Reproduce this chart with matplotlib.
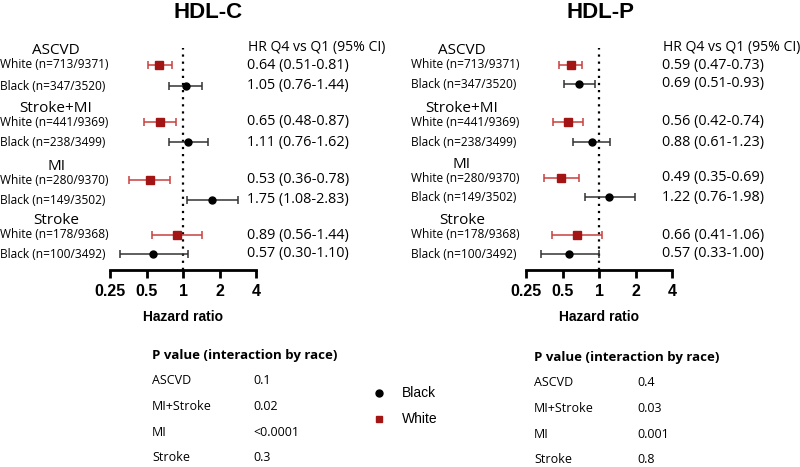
import matplotlib.pyplot as plt
from matplotlib.ticker import FixedLocator, NullLocator

W, H = 800, 467

groups = ["ASCVD", "Stroke+MI", "MI", "Stroke"]
white_n = ["White (n=713/9371)", "White (n=441/9369)", "White (n=280/9370)", "White (n=178/9368)"]
black_n = ["Black (n=347/3520)", "Black (n=238/3499)", "Black (n=149/3502)", "Black (n=100/3492)"]

# HDL-C
c_white_hr = [0.64, 0.65, 0.53, 0.89]
c_white_lo = [0.51, 0.48, 0.36, 0.56]
c_white_hi = [0.81, 0.87, 0.78, 1.44]
c_black_hr = [1.05, 1.11, 1.75, 0.57]
c_black_lo = [0.76, 0.76, 1.08, 0.30]
c_black_hi = [1.44, 1.62, 2.83, 1.10]

# HDL-P
p_white_hr = [0.59, 0.56, 0.49, 0.66]
p_white_lo = [0.47, 0.42, 0.35, 0.41]
p_white_hi = [0.73, 0.74, 0.69, 1.06]
p_black_hr = [0.69, 0.88, 1.22, 0.57]
p_black_lo = [0.51, 0.61, 0.76, 0.33]
p_black_hi = [0.93, 1.23, 1.98, 1.00]

p_labels = ["ASCVD", "MI+Stroke", "MI", "Stroke"]
c_pvals = ["0.1", "0.02", "<0.0001", "0.3"]
p_pvals = ["0.4", "0.03", "0.001", "0.8"]

ticks = [0.25, 0.5, 1, 2, 4]
tick_labels = ["0.25", "0.5", "1", "2", "4"]

RED = "#a31515"
FONT = "Open Sans"


def T(x, y, s, **kw):
    kw.setdefault("family", FONT)
    fig.text(x / W, 1 - y / H, s, **kw)


fig = plt.figure(figsize=(W / 100, H / 100), dpi=100)


def panel(x0, title, w_hr, w_lo, w_hi, b_hr, b_lo, b_hi, white_y, black_y, grp_y,
          lab_x, grp_x, title_x, hr_x, pv_x, pv_vx, pv_y, pvals):
    # axis spans 0.25..4 over 146 px, line at y=270
    ax = fig.add_axes([x0 / W, (H - 270) / H, 146 / W, 230 / H])
    ax.set_xscale("log", base=2)
    ax.set_xlim(0.25, 4)
    ax.set_ylim(270, 40)
    for s in ["top", "right", "left"]:
        ax.spines[s].set_visible(False)
    ax.spines["bottom"].set_linewidth(2)
    ax.xaxis.set_major_locator(FixedLocator(ticks))
    ax.xaxis.set_minor_locator(NullLocator())
    ax.set_xticklabels(tick_labels, fontsize=11.5, fontweight="bold", family="Liberation Sans")
    ax.tick_params(axis="x", length=6, width=2, pad=4)
    ax.set_yticks([])
    ax.patch.set_alpha(0)
    ax.plot([1, 1], [270, 48], ls=(0, (1, 2.2)), color="black", lw=1.6, clip_on=False)

    wx = [[h - l for h, l in zip(w_hr, w_lo)], [hi - h for h, hi in zip(w_hr, w_hi)]]
    bx = [[h - l for h, l in zip(b_hr, b_lo)], [hi - h for h, hi in zip(b_hr, b_hi)]]
    ax.errorbar(w_hr, white_y, xerr=wx, fmt="s", color=RED, ecolor="#c94040", ms=6,
                capsize=3, elinewidth=1.1, capthick=1.1, clip_on=False)
    ax.errorbar(b_hr, black_y, xerr=bx, fmt="o", color="black", ecolor="#333333", ms=5,
                capsize=3, elinewidth=1.1, capthick=1.1, clip_on=False)

    T(x0 + 73, 317, "Hazard ratio", ha="center", va="center", fontsize=10,
      fontweight="bold", family="Liberation Sans")
    T(title_x, 13, title, ha="center", va="center", fontsize=16, fontweight="bold",
      family="Liberation Sans")

    for i in range(4):
        T(grp_x, grp_y[i], groups[i], ha="center", va="center", fontsize=11)
        T(lab_x, white_y[i], white_n[i], ha="left", va="center", fontsize=8.6)
        T(lab_x, black_y[i], black_n[i], ha="left", va="center", fontsize=8.6)
        T(hr_x, white_y[i], "%.2f (%.2f-%.2f)" % (w_hr[i], w_lo[i], w_hi[i]),
          ha="left", va="center", fontsize=10.4)
        T(hr_x, black_y[i], "%.2f (%.2f-%.2f)" % (b_hr[i], b_lo[i], b_hi[i]),
          ha="left", va="center", fontsize=10.4)
    T(hr_x + 1, 47, "HR Q4 vs Q1 (95% CI)", ha="left", va="center", fontsize=10.1)

    T(pv_x, pv_y, "P value (interaction by race)", ha="left", va="center", fontsize=9.5,
      fontweight="bold")
    for i in range(4):
        T(pv_x, pv_y + 26 + 25.5 * i, p_labels[i], ha="left", va="center", fontsize=9)
        T(pv_vx, pv_y + 26 + 25.5 * i, pvals[i], ha="left", va="center", fontsize=9)
    return ax


panel(110, "HDL-C", c_white_hr, c_white_lo, c_white_hi, c_black_hr, c_black_lo, c_black_hi,
      [65, 122, 180, 235], [86, 142, 200, 254], [51, 108, 166, 221],
      0, 56, 208, 247, 152, 253, 355, c_pvals)
panel(526, "HDL-P", p_white_hr, p_white_lo, p_white_hi, p_black_hr, p_black_lo, p_black_hi,
      [65, 122, 178, 235], [84, 142, 197, 254], [51, 108, 164, 221],
      411, 462, 600, 662, 534, 637, 357, p_pvals)

# legend
lax = fig.add_axes([0, 0, 1, 1])
lax.set_xlim(0, W)
lax.set_ylim(H, 0)
lax.axis("off")
lax.plot([379], [393], "o", color="black", ms=5)
lax.plot([379], [419], "s", color=RED, ms=5)
T(402, 393, "Black", ha="left", va="center", fontsize=10, family="Liberation Sans")
T(402, 419, "White", ha="left", va="center", fontsize=10, family="Liberation Sans")

fig.savefig("out.png", dpi=100)
